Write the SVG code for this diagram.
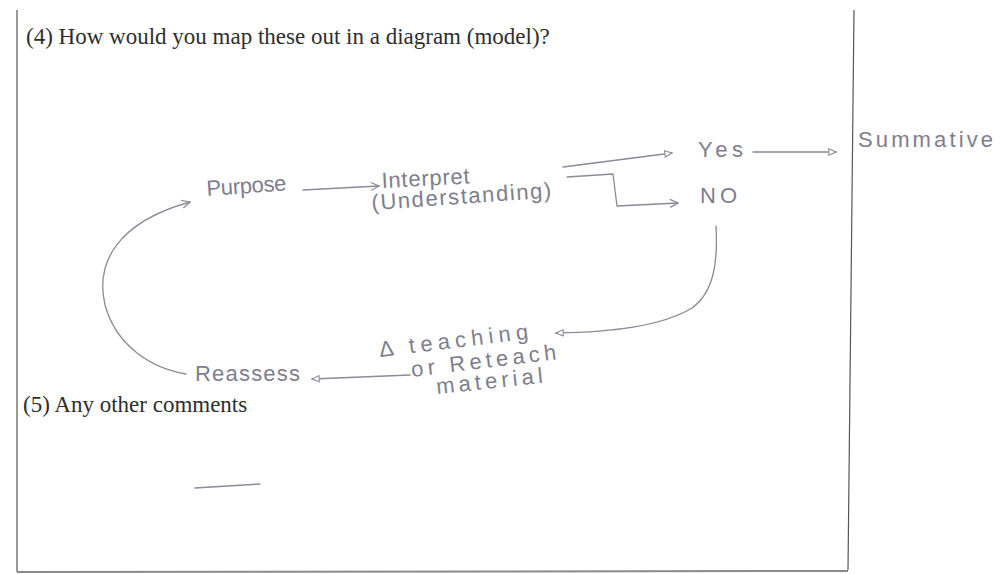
<svg xmlns="http://www.w3.org/2000/svg" width="1003" height="574" viewBox="0 0 1003 574">
<defs>
<style>
.print{font-family:"Liberation Serif","Times New Roman",serif;font-size:23px;fill:#2e2e2e}
.hand{font-family:"Liberation Sans",Arial,sans-serif;font-size:22px;fill:#7e7e8e}
.ink{fill:none;stroke:#8a8a99;stroke-width:1.3;stroke-linecap:round;stroke-linejoin:round}
.border{stroke:#555;stroke-width:1.2;fill:none}
</style>
<marker id="ah" viewBox="0 0 10 10" refX="9" refY="5" markerWidth="9" markerHeight="9" orient="auto" markerUnits="userSpaceOnUse">
<path d="M1,1.5 L9,5 L1,8.5 Z" fill="#ffffff" stroke="#8a8a99" stroke-width="1.2"/>
</marker>
<marker id="oh" viewBox="0 0 10 10" refX="9" refY="5" markerWidth="10" markerHeight="10" orient="auto" markerUnits="userSpaceOnUse">
<path d="M1,1 L9,5 L1,9" fill="none" stroke="#8a8a99" stroke-width="1.2"/>
</marker>
</defs>
<rect width="1003" height="574" fill="#ffffff"/>
<g id="frame">
<line class="border" x1="17" y1="10" x2="17" y2="572"/>
<line class="border" x1="854" y1="10" x2="848" y2="570"/>
<line x1="17" y1="572" x2="848" y2="571" stroke="#8a8a8a" stroke-width="2"/>
</g>
<g id="questions">
<text class="print" x="26" y="44">(4) How would you map these out in a diagram (model)?</text>
<text class="print" x="23" y="412">(5) Any other comments</text>
</g>
<g id="connectors">
<path class="ink" d="M303,190 L379,186" marker-end="url(#oh)"/>
<path class="ink" d="M563,167 L672,153" marker-end="url(#ah)"/>
<path class="ink" d="M567,177 L613,174 L617,206 L678,203" marker-end="url(#oh)"/>
<path class="ink" d="M753,152 L836,152" marker-end="url(#ah)"/>
<path class="ink" d="M716,226 C718,262 714,292 692,308 C662,326 614,332 556,333" marker-end="url(#ah)"/>
<path class="ink" d="M410,375 L312,379" marker-end="url(#ah)"/>
<path class="ink" d="M186,374 C150,368 116,345 105,305 C95,262 118,222 190,202" marker-end="url(#oh)"/>
<path class="ink" d="M195,488 L260,484"/>
</g>
<g id="node-purpose"><text class="hand" x="207" y="196" textLength="80" transform="rotate(-4 207 196)">Purpose</text></g>
<g id="node-interpret">
<text class="hand" x="382" y="188" textLength="88" transform="rotate(-3 382 188)">Interpret</text>
<text class="hand" x="372" y="210" textLength="180" transform="rotate(-4 372 210)">(Understanding)</text>
</g>
<g id="node-yes"><text class="hand" x="698" y="157" textLength="45">Yes</text></g>
<g id="node-no"><text class="hand" x="700" y="203" textLength="37">NO</text></g>
<g id="node-summative"><text class="hand" x="858" y="147" textLength="135">Summative</text></g>
<g id="node-change">
<text class="hand" x="380" y="357" textLength="150" transform="rotate(-7 380 357)">Δ teaching</text>
<text class="hand" x="412" y="377" textLength="146" transform="rotate(-7 412 377)">or Reteach</text>
<text class="hand" x="437" y="394" textLength="107" transform="rotate(-6 437 394)">material</text>
</g>
<g id="node-reassess"><text class="hand" x="195" y="381" textLength="105">Reassess</text></g>
</svg>
